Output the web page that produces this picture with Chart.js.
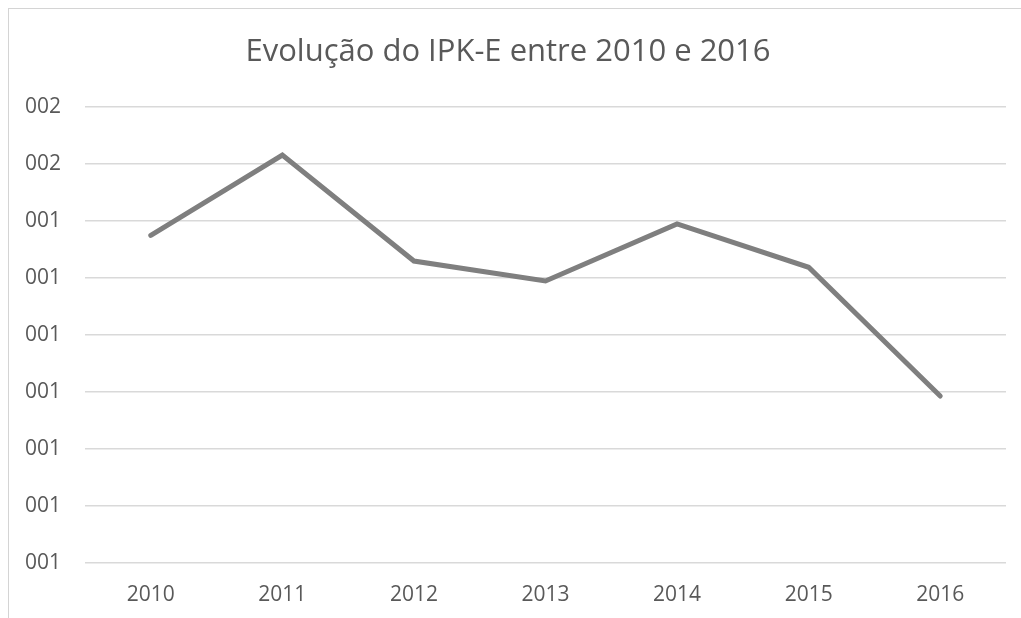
<!DOCTYPE html>
<html>
<head>
<meta charset="utf-8">
<script src="https://cdn.jsdelivr.net/npm/chart.js@4/dist/chart.umd.min.js"></script>
<style>
  html, body { margin: 0; padding: 0; background: #fff; overflow: hidden; }
  #frame { position: absolute; left: 8px; top: 8px; width: 1100px; height: 700px; border: 1px solid #d4d4d4; }
  #wrap { position: absolute; left: 0; top: 0; width: 1021px; height: 618px; }
</style>
</head>
<body>
<div id="frame"></div>
<div id="wrap"><canvas id="chart"></canvas></div>
<script>
// categories and values
const years = ['2010', '2011', '2012', '2013', '2014', '2015', '2016'];
const ipkValues = [5.75, 7.16, 5.30, 4.95, 5.95, 5.19, 2.93];
// y tick labels from bottom to top, as shown in the original
const yTickLabels = ['001', '001', '001', '001', '001', '001', '001', '002', '002'];

const textColor = '#595959';
const gridColor = '#d9d9d9';

const ctx = document.getElementById('chart').getContext('2d');

new Chart(ctx, {
  type: 'line',
  data: {
    labels: years,
    datasets: [{
      label: 'IPK-E',
      data: ipkValues,
      borderColor: '#7f7f7f',
      borderWidth: 5,
      borderCapStyle: 'round',
      borderJoinStyle: 'miter',
      pointRadius: 0,
      tension: 0,
      fill: false
    }]
  },
  options: {
    responsive: true,
    maintainAspectRatio: false,
    animation: false,
    layout: { padding: { left: 10, right: 15, top: 0, bottom: 0 } },
    plugins: {
      legend: { display: false },
      tooltip: { enabled: false },
      title: {
        display: true,
        text: 'Evolução do IPK-E entre 2010 e 2016',
        color: textColor,
        font: { family: 'Open Sans', size: 31, weight: 'normal' },
        padding: { top: 34, bottom: 36 }
      }
    },
    scales: {
      x: {
        offset: true,
        grid: { display: false },
        border: { display: false },
        ticks: {
          color: textColor,
          font: { family: 'Open Sans', size: 21 },
          padding: 11,
          maxRotation: 0
        },
        afterFit: scale => { scale.height = 55; }
      },
      y: {
        min: 0,
        max: 8,
        border: { display: false },
        grid: { color: gridColor, lineWidth: 1.5, drawTicks: false },
        ticks: {
          stepSize: 1,
          color: textColor,
          font: { family: 'Open Sans', size: 21 },
          padding: 24,
          callback: (value) => yTickLabels[value]
        },
        afterFit: scale => { scale.width = 75; }
      }
    }
  }
});
</script>
</body>
</html>
